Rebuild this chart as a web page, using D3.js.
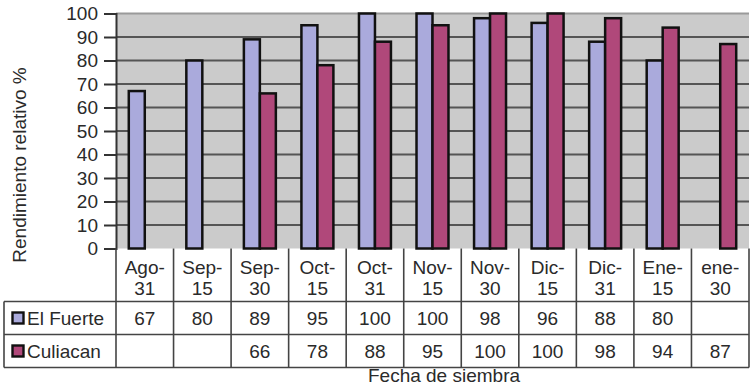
<!DOCTYPE html>
<html><head><meta charset="utf-8">
<script src="https://cdn.jsdelivr.net/npm/d3@7"></script>
<style>body{margin:0;background:#fff}svg{display:block}text{font-family:"Liberation Sans",Arial,sans-serif;fill:#2a2a2a}</style>
</head><body>
<svg id="c" width="750" height="386"></svg>
<script>
const categories = ["Ago-31","Sep-15","Sep-30","Oct-15","Oct-31","Nov-15","Nov-30","Dic-15","Dic-31","Ene-15","ene-30"];
const seriesNames = ["El Fuerte","Culiacan"];
const elFuerte = [67,80,89,95,100,100,98,96,88,80,null];
const culiacan = [null,null,66,78,88,95,100,100,98,94,87];
const yTicks = [0,10,20,30,40,50,60,70,80,90,100];
const colors = ["#aaaadc","#b0487a"];
const yTitle = "Rendimiento relativo %";
const xTitle = "Fecha de siembra";

const values = [elFuerte, culiacan];
const svg = d3.select("#c");
const fs = 19;
const x = d3.scaleBand().domain(categories).range([116, 749]);
const x1 = d3.scaleBand().domain(seriesNames).range([0, x.bandwidth()]).paddingOuter(0.8);
const y = d3.scaleLinear().domain([0,100]).range([248.5, 13.5]);

// plot background
svg.append("rect").attr("x",116).attr("y",y(100)).attr("width",749-116).attr("height",y(0)-y(100)).attr("fill","#cbcbcb");
// gridlines
svg.append("g").selectAll("line").data(yTicks.filter(d=>d>0)).join("line")
  .attr("x1",116).attr("x2",749).attr("y1",d=>y(d)).attr("y2",d=>y(d))
  .attr("stroke",d=>d===100?"#9a9a9a":"#555").attr("stroke-width",2);

// bars
const rows = [];
categories.forEach((c,i)=>seriesNames.forEach((s,j)=>{ if(values[j][i]!=null) rows.push({c,s,j,v:values[j][i]}); }));
svg.append("g").selectAll("rect").data(rows).join("rect")
  .attr("x",d=>x(d.c)+x1(d.s)).attr("width",x1.bandwidth())
  .attr("y",d=>y(d.v)).attr("height",d=>y(0)-y(d.v))
  .attr("fill",d=>colors[d.j]).attr("stroke","#111").attr("stroke-width",2.5);

// y axis
const ya = svg.append("g").attr("transform","translate(116,0)")
  .call(d3.axisLeft(y).tickValues(yTicks).tickSize(12).tickPadding(6));
ya.selectAll("path").attr("stroke","#333").attr("stroke-width",2);
ya.selectAll("line").attr("stroke","#333").attr("stroke-width",2);
ya.selectAll("text").attr("font-size",fs).style("font-family","Liberation Sans, Arial, sans-serif").attr("fill","#2a2a2a");

// data table
const tY0 = 248.5, tY1 = 301.5, tY2 = 334.5, tY3 = 367.5;
const lc = "#444", lw = 1.6;
const tg = svg.append("g");
[tY1,tY2,tY3].forEach(yy=>tg.append("line").attr("x1",4).attr("x2",749).attr("y1",yy).attr("y2",yy).attr("stroke",lc).attr("stroke-width",lw));
tg.append("line").attr("x1",4).attr("x2",4).attr("y1",tY1).attr("y2",tY3).attr("stroke",lc).attr("stroke-width",lw);
const bounds = categories.map(c=>x(c)).concat([x(categories[categories.length-1])+x.bandwidth()]);
tg.selectAll(".vb").data(bounds).join("line")
  .attr("x1",d=>d).attr("x2",d=>d).attr("y1",tY0).attr("y2",tY3).attr("stroke",lc).attr("stroke-width",lw);
categories.forEach(c=>{
  const k = c.indexOf("-");
  const l1 = c.slice(0,k+1), l2 = c.slice(k+1);
  const cx = x(c)+x.bandwidth()/2;
  tg.append("text").attr("x",cx).attr("y",267).attr("text-anchor","middle").attr("dominant-baseline","central").attr("font-size",fs).text(l1);
  tg.append("text").attr("x",cx).attr("y",288.5).attr("text-anchor","middle").attr("dominant-baseline","central").attr("font-size",fs).text(l2);
});
const rowCenters = [(tY1+tY2)/2, (tY2+tY3)/2];
seriesNames.forEach((s,j)=>{
  const cy = rowCenters[j];
  tg.append("rect").attr("x",12.5).attr("y",cy-5.5).attr("width",11).attr("height",11).attr("fill",colors[j]).attr("stroke","#111").attr("stroke-width",2.4);
  tg.append("text").attr("x",27).attr("y",cy+0.5).attr("dominant-baseline","central").attr("font-size",fs).text(s);
  categories.forEach((c,i)=>{
    const v = values[j][i];
    if(v==null) return;
    tg.append("text").attr("x",x(c)+x.bandwidth()/2).attr("y",cy+0.5).attr("text-anchor","middle").attr("dominant-baseline","central").attr("font-size",fs).text(v);
  });
});

svg.append("text").attr("x",444).attr("y",375.5).attr("text-anchor","middle").attr("dominant-baseline","central").attr("font-size",fs).text(xTitle);
svg.append("text").attr("transform","translate(19,165) rotate(-90)").attr("text-anchor","middle").attr("dominant-baseline","central").attr("font-size",fs).text(yTitle);
</script>
</body></html>
